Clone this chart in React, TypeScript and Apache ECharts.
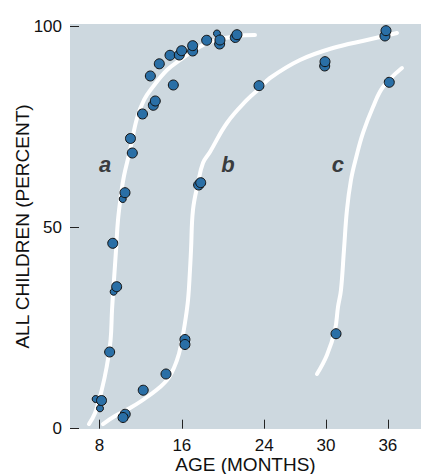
import React, { useEffect, useRef } from "react";
import * as echarts from "echarts";

// Axis ticks
const xTicks = [8, 16, 24, 30, 36];
const yTicks = [0, 50, 100];

// Fitted curves [age (months), percent]
const curveA = [
  [6.98, 1.16], [7.57, 3.9], [8.22, 9.62], [8.7, 15.34], [9.08, 22.06], [9.22, 29.52],
  [9.41, 36.98], [9.61, 44.45], [9.8, 51.91], [10.09, 58.12], [10.38, 62.85], [10.97, 69.32],
  [11.65, 77.28], [12.33, 81.76], [13.1, 84.74], [14.56, 89.22], [15.82, 91.71], [16.79, 93.45],
  [18.73, 96.19], [21.35, 97.68], [23.1, 97.93],
];
const curveB = [
  [8.34, 1.16], [9.51, 3.15], [10.97, 5.14], [12.62, 7.88], [14.56, 12.11], [15.53, 17.08],
  [16.01, 22.06], [16.3, 26.29], [16.6, 32.01], [16.79, 39.47], [16.89, 44.45], [17.08, 54.4],
  [17.57, 61.11], [18.05, 66.09], [18.73, 68.83], [20.38, 76.04], [22.32, 81.76], [23.59, 84.74],
  [24.56, 87.23], [27.47, 91.71], [30.67, 94.69], [33.97, 96.68], [36.89, 98.42],
];
const curveC = [
  [29.12, 13.6], [30.09, 18.33], [30.87, 24.54], [31.16, 30.27], [31.45, 34.5], [31.74, 44.45],
  [32.03, 54.4], [32.42, 61.86], [32.91, 67.33], [33.59, 73.55], [34.56, 80.02], [35.53, 84.99],
  [37.37, 89.71],
];

// Observed points [age, percent]
const pointsA = [
  [8.2, 7.01], [8.99, 19.07], [9.67, 35.32], [9.29, 46.11], [10.48, 58.7], [11.19, 68.57],
  [11.01, 72.18], [12.18, 78.28], [13.23, 80.44], [13.42, 81.51], [15.17, 85.49], [12.94, 87.73],
  [13.81, 90.76], [14.85, 92.88], [15.75, 92.95], [15.98, 94.02], [17.05, 93.95], [17.05, 95.27],
  [18.41, 96.61], [19.67, 95.69], [19.7, 96.68], [21.19, 97.31], [21.35, 98.0],
];
const pointsASmall = [
  [7.63, 7.38], [8.05, 5.06], [9.38, 34.07], [10.26, 57.13], [19.41, 98.3],
];
const pointsB = [
  [16.3, 22.18], [16.3, 20.94], [14.46, 13.6], [12.25, 9.57], [10.5, 3.6], [10.29, 2.78],
  [17.63, 60.61], [17.83, 61.19], [23.49, 85.32], [29.87, 90.22], [29.9, 91.29],
  [35.72, 97.68], [35.82, 99.0],
];
const pointsC = [
  [36.14, 86.16], [30.97, 23.62],
];

// Curve labels
const curveLabels = [
  { name: "a", value: [8.54, 65.6] },
  { name: "b", value: [20.48, 65.7] },
  { name: "c", value: [31.16, 65.6] },
];

const FONT = '"Liberation Sans", Arial, Helvetica, sans-serif';
const DOT = "#2a6fa6";

export default function App() {
  const ref = useRef<HTMLDivElement>(null);
  useEffect(() => {
    if (!ref.current) return;
    const chart = echarts.init(ref.current, null, { renderer: "svg" });
    const lineSeries = (data: number[][]) => ({
      type: "line",
      data,
      smooth: 0.4,
      showSymbol: false,
      silent: true,
      lineStyle: { color: "#ffffff", width: 4, cap: "round" },
      z: 2,
    });
    const dotSeries = (data: number[][], size: number) => ({
      type: "scatter",
      data,
      symbol: "circle",
      symbolSize: size,
      itemStyle: { color: DOT, borderColor: "#111", borderWidth: 1, opacity: 1 },
      z: 3,
    });
    chart.setOption({
      animation: false,
      backgroundColor: "#ffffff",
      textStyle: { fontFamily: FONT },
      grid: {
        left: 70,
        right: 0,
        top: 24,
        bottom: 45,
        show: true,
        backgroundColor: "#cdd8df",
        borderWidth: 0,
        containLabel: false,
        outerBoundsMode: "none",
      },
      xAxis: {
        type: "value",
        min: 5.14,
        max: 39.22,
        name: "AGE (MONTHS)",
        nameLocation: "middle",
        nameGap: 26,
        nameMoveOverlap: false,
        nameTextStyle: { fontSize: 19, lineHeight: 19, color: "#111", fontFamily: FONT },
        axisLine: { show: false },
        axisTick: {
          show: true,
          inside: true,
          length: 9,
          customValues: xTicks,
          lineStyle: { color: "#222", width: 1 },
        },
        axisLabel: {
          customValues: xTicks,
          fontSize: 17,
          lineHeight: 17,
          color: "#111",
          margin: 8,
          fontFamily: FONT,
        },
        splitLine: { show: false },
      },
      yAxis: {
        type: "value",
        min: -0.08,
        max: 100.66,
        name: "ALL CHILDREN (PERCENT)",
        nameLocation: "middle",
        nameGap: 38,
        nameMoveOverlap: false,
        nameTextStyle: { fontSize: 19, lineHeight: 19, color: "#111", fontFamily: FONT },
        axisLine: { show: false },
        axisTick: {
          show: true,
          inside: true,
          length: 9,
          customValues: yTicks,
          lineStyle: { color: "#222", width: 1 },
        },
        axisLabel: { customValues: yTicks, fontSize: 17, color: "#111", margin: 8, fontFamily: FONT },
        splitLine: { show: false },
      },
      series: [
        lineSeries(curveA),
        lineSeries(curveB),
        lineSeries(curveC),
        dotSeries(pointsASmall, 7),
        dotSeries(pointsA, 10),
        dotSeries(pointsB, 10),
        dotSeries(pointsC, 10),
        {
          type: "scatter",
          data: curveLabels,
          symbolSize: 0,
          silent: true,
          label: {
            show: true,
            position: "inside",
            formatter: "{b}",
            fontSize: 22,
            fontStyle: "italic",
            fontWeight: "bold",
            color: "#111",
            fontFamily: FONT,
          },
          z: 4,
        },
      ],
    });
    return () => chart.dispose();
  }, []);
  return (
    <div
      ref={ref}
      style={{ position: "fixed", left: 0, top: 0, width: 421, height: 474 }}
    />
  );
}
